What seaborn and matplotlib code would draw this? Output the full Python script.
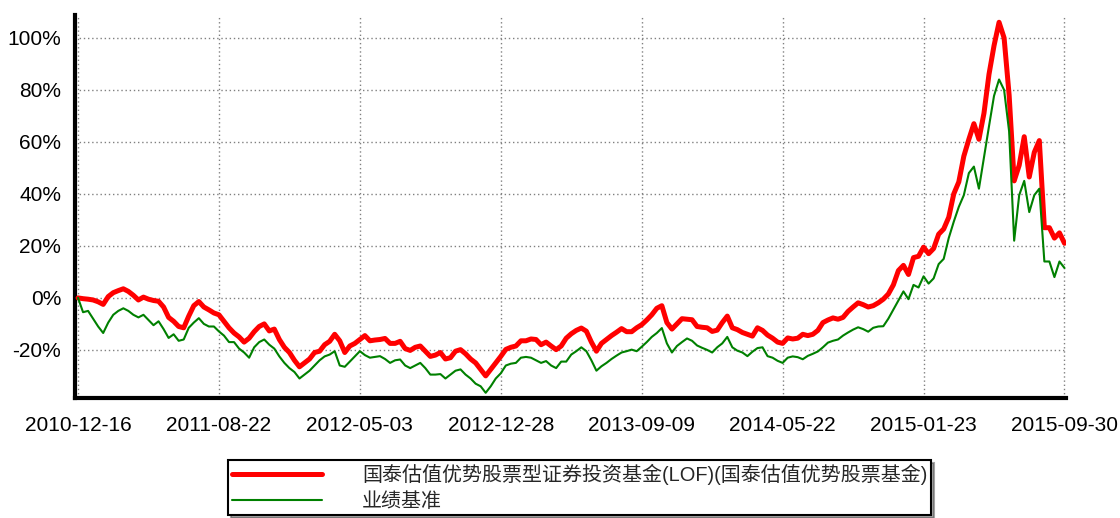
import matplotlib
matplotlib.use("Agg")
import matplotlib.pyplot as plt
import seaborn as sns
import numpy as np
import pandas as pd
from matplotlib.ticker import FixedLocator, MultipleLocator

# ---- data (cumulative return, %), equally spaced trading-day samples ----
fund_returns = [
    0, -0.3, -0.5, -0.8, -1.5, -2.5, 0.5, 2.0, 2.8, 3.5,
    2.5, 1.0, -0.8, 0.3, -0.5, -1.0, -1.3, -3.5, -7.5, -9.0,
    -11.0, -11.5, -7.0, -3.0, -1.4, -3.5, -4.6, -5.8, -6.5, -9.0,
    -11.5, -13.5, -15.0, -17.0, -15.5, -13.0, -11.0, -10.0, -12.7, -12.0,
    -16.0, -19.0, -21.0, -24.0, -26.5, -25.0, -23.5, -21.0, -20.5, -18.0,
    -16.7, -14.0, -16.5, -21.0, -18.5, -17.5, -16.0, -14.5, -16.5, -16.2,
    -16.0, -15.6, -17.5, -17.5, -16.7, -19.5, -20.2, -19.0, -18.5, -20.5,
    -22.5, -22.0, -21.0, -23.5, -23.0, -20.5, -19.9, -21.5, -23.5, -25.0,
    -27.5, -30.0, -27.5, -25.0, -22.5, -19.8, -19.0, -18.5, -16.5, -16.5,
    -15.8, -16.0, -18.0, -17.0, -18.5, -19.9, -18.5, -15.5, -13.8, -12.5,
    -11.6, -12.8, -17.0, -20.5, -17.5, -16.0, -14.5, -13.2, -11.8, -13.0,
    -13.0, -11.5, -10.3, -8.5, -6.5, -4.0, -3.0, -9.5, -12.0, -10.0,
    -8.0, -8.2, -8.4, -11.0, -11.3, -11.5, -12.9, -12.4, -9.5, -7.0,
    -11.5, -12.2, -13.3, -14.0, -14.7, -11.5, -12.5, -14.3, -15.5, -17.0,
    -17.5, -15.4, -15.8, -15.5, -14.0, -14.5, -14.0, -12.5, -9.5, -8.5,
    -7.7, -8.2, -7.5, -5.2, -3.5, -1.9, -2.6, -3.5, -3.0, -1.9,
    -0.5, 1.5, 5.0, 10.5, 12.5, 9.0, 15.5, 16.0, 19.5, 17.0,
    19.0, 24.5, 26.5, 31.0, 40.0, 44.6, 54.5, 61.0, 67.0, 61.0,
    71.0, 86.0, 97.0, 106.0, 100.0, 78.0, 45.0, 51.0, 62.0, 46.5,
    56.0, 60.5, 27.0, 27.0, 23.0, 25.0, 21.0,
]

benchmark_returns = [
    0, -5.5, -5.0, -8.0, -11.0, -13.5, -9.5, -6.5, -5.0, -4.0,
    -5.0, -6.5, -7.5, -6.5, -8.5, -10.5, -9.0, -12.0, -15.4, -14.0,
    -16.5, -16.0, -11.5, -9.5, -7.8, -10.0, -11.0, -11.0, -12.9, -14.5,
    -17.0, -17.0, -19.5, -21.0, -23.0, -19.0, -17.0, -16.0, -18.0, -19.5,
    -22.5, -25.0, -27.0, -28.5, -31.0, -29.5, -28.0, -26.0, -24.0, -22.5,
    -21.8, -20.5, -26.0, -26.5, -24.5, -22.5, -20.5, -22.0, -23.0, -22.7,
    -22.4, -23.5, -25.0, -24.0, -23.7, -26.0, -27.0, -26.0, -25.0, -27.0,
    -29.5, -29.5, -29.3, -31.0, -29.5, -28.0, -27.5, -29.5, -31.0, -33.0,
    -34.0, -36.5, -34.0, -31.0, -29.0, -26.0, -25.3, -25.0, -23.0, -22.7,
    -23.0, -24.0, -25.0, -24.3, -26.0, -27.0, -24.5, -24.5, -21.8, -20.5,
    -19.0, -20.5, -24.0, -28.0, -26.3, -25.0, -23.5, -22.2, -21.0, -20.5,
    -19.9, -20.5, -18.8, -17.0, -15.0, -13.5, -11.6, -17.5, -21.0, -18.5,
    -17.0, -15.6, -16.5, -18.3, -19.2, -20.0, -21.0, -19.0, -17.5, -15.0,
    -19.0, -20.3, -21.0, -22.4, -20.7, -19.3, -19.0, -22.4, -23.0, -24.2,
    -25.0, -23.0, -22.5, -22.8, -23.6, -22.3, -21.5, -20.6, -19.0, -17.2,
    -16.5, -16.0, -14.5, -13.3, -12.2, -11.3, -12.0, -13.0, -11.5, -11.0,
    -10.9, -8.0, -4.5, -1.0, 2.5, -0.5, 5.0, 4.0, 8.3, 5.5,
    7.5, 13.0, 15.0, 23.0, 29.3, 35.0, 39.5, 48.0, 50.5, 42.0,
    54.0, 66.0, 77.7, 84.0, 80.0, 64.0, 22.0, 39.5, 45.0, 33.0,
    39.5, 42.0, 14.0, 14.0, 8.0, 14.0, 11.5,
]

date_tick_labels = ["2010-12-16", "2011-08-22", "2012-05-03", "2012-12-28",
                    "2013-09-09", "2014-05-22", "2015-01-23", "2015-09-30"]
y_tick_values = [-20, 0, 20, 40, 60, 80, 100]
y_tick_labels = ["-20%", "0%", "20%", "40%", "60%", "80%", "100%"]
series_names = ["国泰估值优势股票型证券投资基金(LOF)(国泰估值优势股票基金)", "业绩基准"]

# ---- build frame ----
n = len(fund_returns)
step = (n - 1) / (len(date_tick_labels) - 1)
df = pd.DataFrame({
    "idx": np.arange(n),
    series_names[0]: fund_returns,
    series_names[1]: benchmark_returns,
})

sns.set_theme(style="white")
plt.rcParams["font.family"] = ["Liberation Sans", "Noto Sans CJK SC", "DejaVu Sans"]

fig = plt.figure(figsize=(11.2, 5.18), dpi=100)
ax = fig.add_axes([75 / 1120, 1 - 398 / 518, (1066 - 75) / 1120, (398 - 15) / 518])

sns.lineplot(data=df, x="idx", y=series_names[0], ax=ax, color="#ff0000",
             linewidth=3.6, label=series_names[0], zorder=3)
sns.lineplot(data=df, x="idx", y=series_names[1], ax=ax, color="#008000",
             linewidth=1.5, label=series_names[1], zorder=4)

ax.set_xlim(-0.6, n - 1 + 0.3)
ax.set_ylim(-38.5, 108.8)

major_x = [i * step for i in range(len(date_tick_labels))]
ax.xaxis.set_major_locator(FixedLocator(major_x))
ax.xaxis.set_minor_locator(FixedLocator([i * step / 4 for i in range(4 * (len(date_tick_labels) - 1) + 1)]))
ax.set_xticklabels(date_tick_labels)
ax.yaxis.set_major_locator(FixedLocator(y_tick_values))
ax.yaxis.set_minor_locator(MultipleLocator(5))
ax.set_yticklabels(y_tick_labels)

ax.tick_params(axis="both", which="both", direction="out", color="#808080",
               width=1.5, labelsize=15, labelcolor="black", pad=3)
ax.tick_params(axis="both", which="major", length=7)
ax.tick_params(axis="both", which="minor", length=6)
ax.tick_params(axis="x", which="major", pad=6)

ax.grid(True, which="major", axis="both", color="#808080", linestyle=(0, (1, 2)), linewidth=1.0)
ax.set_axisbelow(True)

for side in ["top", "right"]:
    ax.spines[side].set_visible(False)
for side in ["left", "bottom"]:
    ax.spines[side].set_linewidth(3)
    ax.spines[side].set_color("black")

ax.set_xlabel("")
ax.set_ylabel("")

handles, labels = ax.get_legend_handles_labels()
ax.get_legend().remove()
leg = fig.legend(handles, labels, loc="upper left",
                 bbox_to_anchor=(228 / 1120, 1 - 460 / 518), bbox_transform=fig.transFigure,
                 ncol=1, frameon=True, fancybox=False, shadow=True,
                 prop={"family": ["Liberation Sans", "Noto Sans CJK SC"], "size": 14.4},
                 handlelength=4.5, handletextpad=2.0, borderpad=0.2,
                 labelspacing=0.35, borderaxespad=0)
leg.get_frame().set_edgecolor("black")
leg.get_frame().set_linewidth(1.5)

fig.savefig("out.png", dpi=100)
